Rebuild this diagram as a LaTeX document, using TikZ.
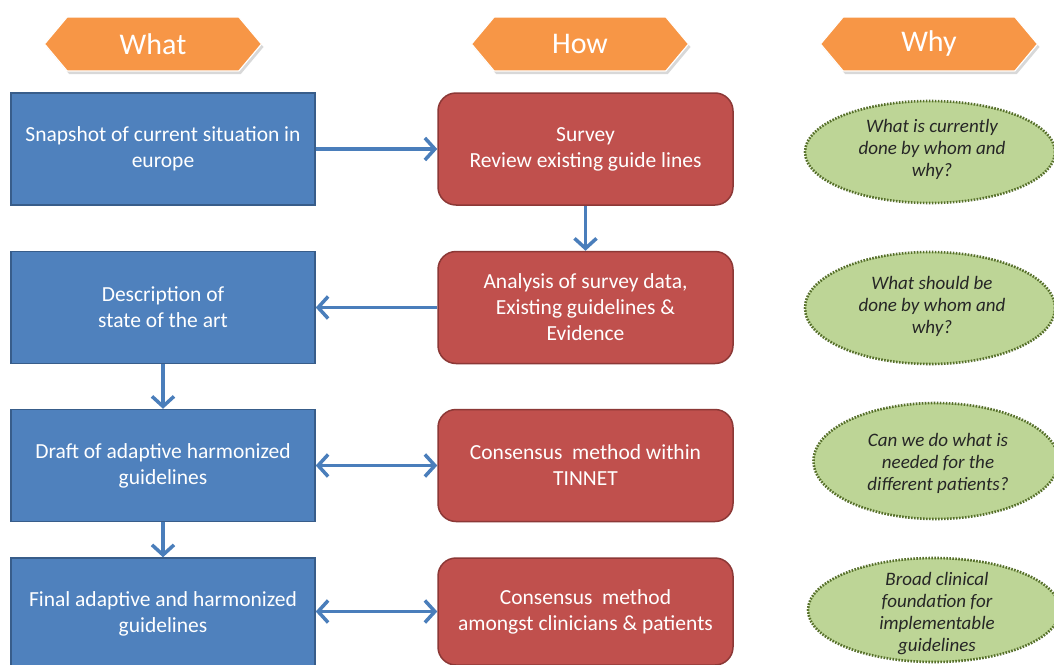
\documentclass[tikz,border=0pt]{standalone}
\usepackage{fontspec}
\setmainfont{Carlito}
\usetikzlibrary{shapes.geometric,shapes.symbols,arrows.meta,shadows}
\definecolor{hdr}{HTML}{F79646}
\definecolor{bfill}{HTML}{4F81BD}
\definecolor{bdraw}{HTML}{385D8A}
\definecolor{rfill}{HTML}{C0504D}
\definecolor{rdraw}{HTML}{8C3836}
\definecolor{gfill}{HTML}{BDD596}
\definecolor{gdraw}{HTML}{566F2A}
\definecolor{arr}{HTML}{4A7EBB}
\tikzset{
  header/.style={signal, signal to=east and west, signal pointer angle=100,
    fill=hdr, draw=white, line width=1.2pt, minimum width=217pt, minimum height=54pt,
    inner sep=0pt, text=white, font=\fontsize{30}{36}\selectfont,
    drop shadow={shadow xshift=2pt, shadow yshift=-3pt, fill=gray!60, opacity=0.5}},
  whatbox/.style={rectangle, fill=bfill, draw=bdraw, line width=1.5pt,
    minimum width=304pt, minimum height=112pt, inner sep=0pt, text=white,
    align=center, font=\fontsize{21.5}{26}\selectfont},
  howbox/.style={rectangle, rounded corners=18pt, fill=rfill, draw=rdraw, line width=1.5pt,
    minimum width=295pt, minimum height=112pt, inner sep=0pt, text=white,
    align=center, font=\fontsize{21.5}{26}\selectfont},
  whybox/.style={ellipse, fill=gfill, draw=gdraw, line width=2.6pt,
    dash pattern=on 1.6pt off 1.4pt, inner sep=0pt},
  whytext/.style={align=center, font=\fontsize{19}{22}\selectfont\itshape, text=black!85},
  link/.style={draw=arr, line width=3.5pt, -{Straight Barb[length=10pt,width=22pt,line width=3.5pt]}},
  link2/.style={draw=arr, line width=3.5pt, {Straight Barb[length=10pt,width=22pt,line width=3.5pt]}-{Straight Barb[length=10pt,width=22pt,line width=3.5pt]}}
}
\begin{document}
\begin{tikzpicture}[x=1pt,y=-1pt]
\useasboundingbox[fill=white] (0,0) rectangle (1054,664);
% headers
\node[header] (what) at (153,44) {What};
\node[header] (how) at (580,44) {How};
\node[header] (why) at (929,44) {Why};
% what column
\node[whatbox] (w1) at (163,149) {Snapshot of current situation in\\europe};
\node[whatbox] (w2) at (163,307.5) {Description of\\state of the art};
\node[whatbox] (w3) at (163,465.5) {Draft of adaptive harmonized\\guidelines};
\node[whatbox, minimum height=114pt] (w4) at (163,615) {};
\node[text=white, align=center, font=\fontsize{21.5}{26}\selectfont] (w4t) at (163,614) {Final adaptive and harmonized\\guidelines};
% how column
\node[howbox] (h1) at (585.5,149) {Survey\\Review existing guide lines};
\node[howbox] (h2) at (585.5,307.5) {Analysis of survey data,\\Existing guidelines \&\\Evidence};
\node[howbox] (h3) at (585.5,465.5) {Consensus\ \ method within\\TINNET};
\node[howbox, minimum height=107pt] (h4) at (585.5,611.5) {Consensus\ \ method\\amongst clinicians \& patients};
% why column
\node[whybox, minimum width=250pt, minimum height=102pt] (e1) at (930,152) {};
\node[whytext] (t1) at (932,149) {What is currently\\done by whom and\\why?};
\node[whybox, minimum width=250pt, minimum height=112pt] (e2) at (930,308) {};
\node[whytext] (t2) at (932,306) {What should be\\done by whom and\\why?};
\node[whybox, minimum width=245pt, minimum height=116pt] (e3) at (936,461) {};
\node[whytext] (t3) at (938,463) {Can we do what is\\needed for the\\different patients?};
\node[whybox, minimum width=252pt, minimum height=104pt] (e4) at (934,610) {};
\node[whytext] (t4) at (937,614) {Broad clinical\\foundation for\\implementable\\guidelines};
% connectors
\draw[link] (w1.east) -- (h1.west);
\draw[link] (h1.south) -- (h2.north);
\draw[link] (h2.west) -- (w2.east);
\draw[link] (w2.south) -- (w3.north);
\draw[link2] (w3.east) -- (h3.west);
\draw[link] (w3.south) -- (w4.north);
\draw[link2] (w4.east |- h4.center) -- (h4.west);
\end{tikzpicture}
\end{document}
